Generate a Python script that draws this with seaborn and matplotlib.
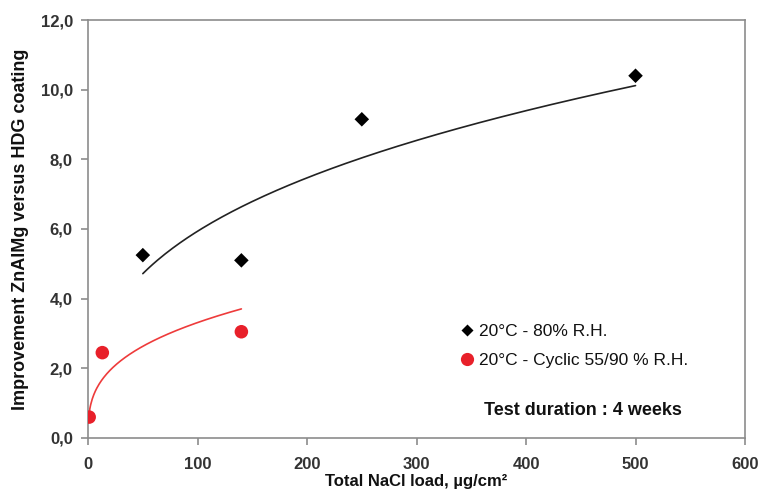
import numpy as np
import pandas as pd
import matplotlib
matplotlib.use("Agg")
import matplotlib.pyplot as plt
import seaborn as sns
from matplotlib.ticker import FuncFormatter
from matplotlib.lines import Line2D

sns.set_theme(style="white")
plt.rcParams['font.family'] = ['Liberation Sans', 'DejaVu Sans']

# Data
x_rh80 = [50, 140, 250, 500]
y_rh80 = [5.25, 5.1, 9.15, 10.4]
x_cyc = [1, 13, 140]
y_cyc = [0.6, 2.45, 3.05]
label_rh80 = "20°C - 80% R.H."
label_cyc = "20°C - Cyclic 55/90 % R.H."
x_ticks = [0, 100, 200, 300, 400, 500, 600]
y_ticks = [0, 2, 4, 6, 8, 10, 12]

df = pd.concat([
    pd.DataFrame({"x": x_rh80, "y": y_rh80, "s": label_rh80}),
    pd.DataFrame({"x": x_cyc, "y": y_cyc, "s": label_cyc}),
])

fig = plt.figure(figsize=(7.66, 4.93), dpi=100)
ax = fig.add_axes([0.115, 0.1116, 0.8576, 0.8478])

def power_fit(xs, ys):
    b, lna = np.polyfit(np.log(xs), np.log(ys), 1)
    xx = np.linspace(min(xs), max(xs), 200)
    return xx, np.exp(lna) * xx ** b

xx, yy = power_fit(x_rh80, y_rh80)
ax.plot(xx, yy, color="#222222", lw=1.2)
xx, yy = power_fit(x_cyc, y_cyc)
ax.plot(xx, yy, color="#ee3b3b", lw=1.2)

sns.scatterplot(data=df, x="x", y="y", hue="s", style="s", size="s",
                palette={label_rh80: "black", label_cyc: "#e8202a"},
                markers={label_rh80: "D", label_cyc: "o"},
                sizes={label_rh80: 55, label_cyc: 95},
                edgecolor="none", ax=ax, zorder=3, legend=False)

ax.set_xlim(0, 600)
ax.set_ylim(0, 12)
ax.set_xticks(x_ticks)
ax.set_yticks(y_ticks)
ax.yaxis.set_major_formatter(FuncFormatter(lambda v, p: f"{v:.1f}".replace(".", ",")))
for sp in ax.spines.values():
    sp.set_color("#8c8c8c")
    sp.set_linewidth(1.2)
ax.tick_params(axis="both", direction="out", length=5, width=1.2, color="#8c8c8c",
               labelsize=12, labelcolor="#333333", bottom=True, left=True)
ax.tick_params(axis="x", pad=9)
ax.tick_params(axis="y", pad=6)
for t in ax.get_xticklabels() + ax.get_yticklabels():
    t.set_fontweight("bold")

ax.set_xlabel("Total NaCl load, µg/cm²", fontsize=12, fontweight="bold", labelpad=1,
              color="#111111")
ax.set_ylabel("Improvement ZnAlMg versus HDG coating", fontsize=13, fontweight="bold",
              labelpad=8, color="#111111")

handles = [
    Line2D([], [], ls="none", marker="D", color="black", markersize=6.5, mec="none"),
    Line2D([], [], ls="none", marker="o", color="#e8202a", markersize=9.5, mec="none"),
]
leg = ax.legend(handles, [label_rh80, label_cyc], loc="upper left",
                bbox_to_anchor=(0.564, 0.272), frameon=False, fontsize=12.5,
                handletextpad=0.15, borderaxespad=0, labelspacing=0.75,
                handlelength=1.0, borderpad=0)
for t in leg.get_texts():
    t.set_color("#111111")
ax.text(0.603, 0.056, "Test duration : 4 weeks", transform=ax.transAxes,
        fontsize=13, fontweight="bold", color="#111111")

fig.savefig("out.png", dpi=100)
